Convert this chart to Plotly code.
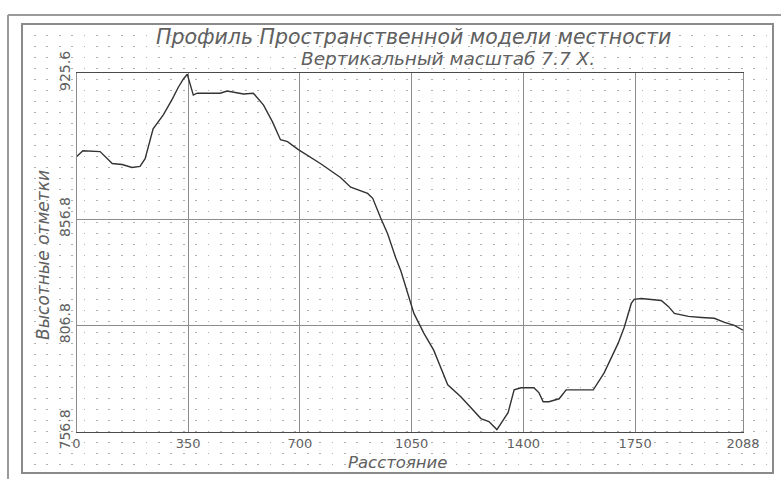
import plotly.graph_objects as go

# Terrain profile: distance along the route vs. elevation mark
distance = [0, 20, 74, 112, 143, 174, 199, 215, 240, 272,
            300, 319, 335, 347, 366, 378, 450, 472, 523, 554,
            586, 614, 639, 661, 695, 740, 764, 827, 859, 912,
            928, 953, 975, 1000, 1016, 1057, 1088, 1119, 1163, 1204,
            1236, 1267, 1292, 1317, 1352, 1371, 1393, 1433, 1449, 1462,
            1480, 1512, 1534, 1619, 1653, 1697, 1716, 1738, 1747, 1769,
            1832, 1854, 1873, 1917, 1958, 1998, 2030, 2061, 2088]
elevation = [886.2, 889.0, 888.6, 883.0, 882.5, 881.1, 881.6, 885.3, 899.3, 905.9,
             913.3, 918.9, 922.8, 925.0, 915.2, 916.1, 916.1, 917.1, 915.7, 916.1,
             910.5, 902.6, 894.2, 893.3, 889.5, 885.5, 883.0, 876.4, 871.8, 868.9,
             866.6, 857.3, 849.8, 838.6, 832.5, 812.4, 803.1, 795.1, 778.8, 773.2,
             768.0, 762.9, 761.5, 757.7, 765.7, 776.4, 777.4, 777.4, 775.0, 770.8,
             770.8, 772.2, 776.4, 776.4, 784.4, 798.4, 805.9, 817.1, 819.0, 819.4,
             818.5, 815.7, 812.4, 811.0, 810.5, 810.1, 808.2, 806.8, 804.5]

x_ticks = [0, 350, 700, 1050, 1400, 1750, 2088]
x_ticktext = ["0", "350", "700", "1050", "1400", "1750", "2088"]
y_ticks = [756.8, 806.8, 856.8, 925.6]
y_ticktext = ["756.8", "806.8", "856.8", "925.6"]

title_text = "Профиль Пространственной модели местности"
subtitle_text = "Вертикальный масштаб 7.7 X."
x_title = "Расстояние"
y_title = "Высотные отметки"

W, H = 781, 479
# inner frame of the window, in pixels
FL, FT, FR, FB = 22, 24, 773, 473


def px_x(px):
    return px / W


def px_y(py):
    return (H - py) / H


font_family = "DejaVu Sans"
grey_txt = "#606060"

fig = go.Figure()

# background dot lattice (own subplot spanning the inner frame)
fig.add_trace(go.Scatter(x=[], y=[], xaxis="x", yaxis="y", showlegend=False))

# profile line
fig.add_trace(go.Scatter(
    x=distance, y=elevation, xaxis="x2", yaxis="y2",
    mode="lines", line=dict(color="#333333", width=1.4),
    showlegend=False, hoverinfo="x+y",
))

dot_col = "#b0b0b0"
fig.update_layout(
    width=W, height=H,
    margin=dict(l=0, r=0, t=0, b=0, autoexpand=False),
    paper_bgcolor="white",
    plot_bgcolor="rgba(0,0,0,0)",
    xaxis=dict(domain=[px_x(FL), px_x(FR)], range=[0, FR - FL], tick0=0, dtick=12.4,
               showgrid=True, gridcolor=dot_col, gridwidth=1.2, griddash="1.4px,9.6px",
               showticklabels=False, ticks="", zeroline=False, showline=False,
               fixedrange=True),
    yaxis=dict(domain=[px_y(FB), px_y(FT)], range=[FB - FT, 0], tick0=0, dtick=11,
               showgrid=True, gridcolor=dot_col, gridwidth=1.2, griddash="1.4px,11px",
               showticklabels=False, ticks="", zeroline=False, showline=False,
               fixedrange=True),
    xaxis2=dict(domain=[px_x(76.5), px_x(743)], anchor="y2", range=[0, 2088],
                tickvals=x_ticks, ticktext=x_ticktext, ticks="",
                showgrid=True, gridcolor="#8c8c8c", gridwidth=1,
                showline=True, linecolor="#4a4a4a", linewidth=1.2, mirror=True,
                zeroline=False,
                tickfont=dict(family=font_family, size=13, color=grey_txt)),
    yaxis2=dict(domain=[px_y(431.5), px_y(73)], anchor="x2", range=[756.8, 925.6],
                tickvals=y_ticks, ticktext=y_ticktext, ticks="", tickangle=-90,
                showgrid=True, gridcolor="#8c8c8c", gridwidth=1,
                showline=True, linecolor="#8c8c8c", linewidth=1.2, mirror=True,
                zeroline=False,
                tickfont=dict(family=font_family, size=14, color=grey_txt)),
    annotations=[
        dict(text=title_text, xref="paper", yref="paper", x=px_x(413), y=px_y(37),
             showarrow=False, xanchor="center", yanchor="middle",
             font=dict(family=font_family, size=20.5, color=grey_txt, style="italic")),
        dict(text=subtitle_text, xref="paper", yref="paper", x=px_x(448), y=px_y(58),
             showarrow=False, xanchor="center", yanchor="middle",
             font=dict(family=font_family, size=18.5, color=grey_txt, style="italic")),
        dict(text=x_title, xref="paper", yref="paper", x=px_x(398), y=px_y(462),
             showarrow=False, xanchor="center", yanchor="middle",
             font=dict(family=font_family, size=16.5, color=grey_txt, style="italic")),
        dict(text=y_title, xref="paper", yref="paper", x=px_x(43), y=px_y(255),
             showarrow=False, xanchor="center", yanchor="middle", textangle=-90,
             font=dict(family=font_family, size=17, color=grey_txt, style="italic")),
    ],
    shapes=[
        # inner frame
        dict(type="rect", xref="paper", yref="paper",
             x0=px_x(FL), x1=px_x(FR), y0=px_y(FB), y1=px_y(FT),
             line=dict(color="#8a8a8a", width=2)),
        # outer window edges
        dict(type="line", xref="paper", yref="paper",
             x0=px_x(8), x1=1, y0=px_y(15), y1=px_y(15),
             line=dict(color="#9a9a9a", width=2)),
        dict(type="line", xref="paper", yref="paper",
             x0=px_x(8), x1=px_x(8), y0=px_y(15), y1=0,
             line=dict(color="#9a9a9a", width=2)),
    ],
)

fig.write_html("out.html")
